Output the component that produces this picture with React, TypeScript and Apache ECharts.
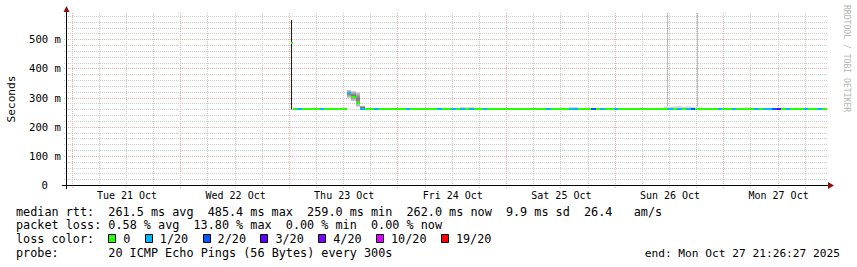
import React, { useEffect, useRef } from 'react';
import * as echarts from 'echarts';

// ---- axis data (hours counted from Tue 21 Oct 00:00) ----
const dayLabels = ['Tue 21 Oct', 'Wed 22 Oct', 'Thu 23 Oct', 'Fri 24 Oct', 'Sat 25 Oct', 'Sun 26 Oct', 'Mon 27 Oct'];
const dayLabelHours = [12, 36, 60, 84, 108, 132, 156];
const viewStartHour = -1.26;
const viewEndHour = 166.7;
const yMax = 590;

// ---- first (short) sample right after data starts ----
const firstSample = { start: 48.25, end: 48.6, median: 485.4, lo: 259.0, hi: 566.0, loss: 0 };

// ---- hourly samples starting at hour 48.6 ----
const hourlyStart = 48.6;
const median = [
  260.2, 259.8, 260.1, 260.0, 261.0, 261.2, 259.9, 260.1, 260.0, 259.8,
  260.1, 260.0, 314.5, 303.0, 281.0, 260.5, 259.4, 259.3, 259.5, 259.2,
  259.3, 259.4, 259.2, 259.3, 259.5, 260.2, 261.6, 261.8, 261.5, 261.7,
  261.4, 261.6, 261.0, 260.2, 259.6, 259.3, 259.2, 259.4, 259.3, 259.5,
  259.2, 259.3, 259.4, 259.2, 259.1, 259.3, 259.2, 259.4, 259.3, 259.1,
  259.2, 259.3, 259.2, 259.1, 259.3, 259.2, 259.4, 259.3, 259.2, 259.3,
  259.4, 259.5, 259.6, 259.3, 259.2, 259.3, 259.5, 259.3, 259.4, 259.2,
  259.3, 259.6, 261.8, 262.0, 262.1, 261.9, 262.2, 262.0, 261.8, 262.1,
  262.0, 261.9, 262.2, 262.4, 262.1, 262.3, 262.0, 262.2, 262.1, 261.9,
  261.8, 260.6, 260.5, 260.7, 260.6, 260.4, 260.6, 260.5, 260.7, 260.6,
  260.5, 260.8, 260.6, 260.5, 260.7, 260.6, 260.8, 260.9, 260.6, 260.5,
  260.7, 260.6, 260.5, 260.6, 260.7, 260.5, 260.6, 260.7,
];
const smokeLo = [
  259.2, 258.9, 259.1, 259.0, 259.8, 260.0, 258.9, 259.0, 259.1, 258.8,
  259.0, 259.1, 299.0, 288.0, 268.0, 258.6, 258.6, 258.5, 258.7, 258.4,
  258.5, 258.6, 258.4, 258.5, 258.7, 259.2, 260.4, 260.6, 260.3, 260.5,
  260.2, 260.4, 259.9, 259.2, 258.8, 258.5, 258.4, 258.5, 258.4, 258.6,
  258.4, 258.5, 258.6, 258.4, 258.3, 258.5, 258.4, 258.6, 258.5, 258.3,
  258.4, 258.5, 258.4, 258.3, 258.5, 258.4, 258.6, 258.5, 258.4, 258.5,
  258.6, 258.6, 258.7, 258.5, 258.4, 258.5, 258.6, 258.5, 258.6, 258.4,
  258.5, 258.7, 260.6, 260.8, 260.9, 260.7, 261.0, 260.8, 260.6, 260.9,
  260.8, 260.7, 261.0, 261.1, 260.9, 261.0, 260.8, 261.0, 260.9, 260.7,
  260.6, 259.6, 259.5, 259.7, 259.6, 259.4, 259.6, 259.5, 259.7, 259.6,
  259.5, 259.8, 259.6, 259.5, 259.7, 259.6, 259.8, 259.9, 259.6, 259.5,
  259.7, 259.6, 259.5, 259.6, 259.7, 259.5, 259.6, 259.7,
];
const smokeHi = [
  261.8, 261.5, 261.6, 261.6, 262.8, 263.0, 261.6, 261.8, 261.6, 261.4,
  261.8, 261.7, 326.0, 322.0, 318.0, 272.0, 261.0, 260.9, 261.3, 260.8,
  261.0, 261.1, 260.8, 261.0, 261.2, 262.0, 263.4, 263.6, 263.2, 263.5,
  263.1, 263.4, 265.5, 266.0, 261.4, 261.0, 260.9, 268.0, 267.0, 268.0,
  266.0, 261.0, 261.2, 260.9, 260.8, 261.0, 260.9, 261.1, 261.0, 260.8,
  260.9, 261.0, 260.9, 260.8, 261.0, 260.9, 261.2, 261.0, 260.9, 261.0,
  261.1, 268.0, 267.5, 261.0, 260.9, 261.0, 261.4, 261.0, 261.2, 260.9,
  261.0, 261.4, 263.6, 263.8, 264.0, 263.7, 264.1, 263.8, 263.6, 264.0,
  263.8, 263.7, 270.0, 269.0, 270.0, 271.0, 269.0, 270.0, 268.0, 263.7,
  263.6, 262.4, 262.3, 262.5, 262.6, 262.2, 262.4, 262.3, 262.5, 262.4,
  266.0, 262.6, 262.5, 262.3, 262.6, 262.5, 262.8, 263.0, 266.0, 262.3,
  262.5, 265.5, 262.3, 262.5, 262.6, 262.3, 262.5, 262.6,
];
const lossCount = [
  0, 1, 0, 0, 0, 0, 1, 0, 0, 0,
  0, 0, 1, 0, 0, 1, 0, 0, 1, 0,
  0, 0, 0, 0, 0, 1, 0, 0, 0, 0,
  0, 0, 1, 0, 0, 1, 0, 1, 0, 1,
  0, 0, 1, 0, 0, 0, 0, 0, 0, 0,
  0, 0, 0, 0, 0, 0, 1, 0, 0, 0,
  0, 1, 1, 0, 0, 0, 2, 0, 1, 0,
  0, 1, 0, 0, 0, 0, 0, 0, 0, 0,
  0, 0, 0, 1, 0, 1, 0, 1, 2, 0,
  0, 0, 0, 0, 1, 0, 0, 1, 0, 0,
  0, 0, 1, 0, 1, 1, 2, 3, 0, 1,
  0, 0, 0, 1, 0, 0, 1, 0,
];
// single far-out pings (thin smoke lines)
const outlierHours = [131.3, 138.0];
const outlierLow = [270, 268];
const outlierHigh = [640, 640];

// ---- loss legend ----
const lossLevels = [0, 1, 2, 3, 4, 10, 19];
const lossLabels = ['0', '1/20', '2/20', '3/20', '4/20', '10/20', '19/20'];
const lossColors = ['#26ff00', '#00b8ff', '#0059ff', '#5e00ff', '#7e00ff', '#dd00ff', '#ff0000'];

// ---- statistics ----
const rttStats = { avg: '261.5', max: '485.4', min: '259.0', now: '262.0', sd: '9.9', amps: '26.4' };
const lossStats = { avg: '0.58', max: '13.80', min: '0.00', now: '0.00' };
const probeText = '20 ICMP Echo Pings (56 Bytes) every 300s';
const endText = 'end: Mon Oct 27 21:26:27 2025';

const MONO = "'DejaVu Sans Mono', monospace";
const MAJOR = '#eab0b0';
const MINOR = '#cdcdcd';
const AXIS_ARROW = '#8b1010';

function lossColor(c: number) {
  let col = lossColors[0];
  lossLevels.forEach((l, k) => {
    if (c >= l) col = lossColors[k];
  });
  return col;
}

function segments(line: string) {
  const out: { text: string; col: number }[] = [];
  const re = /\S+(?: \S+)*/g;
  let m: RegExpExecArray | null;
  while ((m = re.exec(line))) out.push({ text: m[0], col: m.index });
  return out;
}

function buildOption() {
  const rows: number[][] = [
    [firstSample.start, firstSample.end, firstSample.median, firstSample.lo, firstSample.hi, firstSample.loss],
  ];
  median.forEach((m, i) => {
    rows.push([hourlyStart + i, hourlyStart + i + 1, m, smokeLo[i], smokeHi[i], lossCount[i]]);
  });
  const outRows = outlierHours.map((h, i) => [h, outlierLow[i], outlierHigh[i]]);

  const vGrid: number[][] = [];
  for (let h = 0; h <= viewEndHour; h += 6) if (h >= viewStartHour) vGrid.push([h, 0, h % 24 === 0 ? 1 : 0]);
  const hGrid: number[][] = [];
  for (let v = 20; v < yMax; v += 20) hGrid.push([0, v, v % 100 === 0 ? 1 : 0]);

  // legend text
  const charW = 7.1;
  const lx = 16;
  const fs = 11.8;
  const rowsY = [211.5, 225, 239, 253];
  const line1 = `median rtt:  ${rttStats.avg} ms avg  ${rttStats.max} ms max  ${rttStats.min} ms min  ${rttStats.now} ms now  ${rttStats.sd} ms sd  ${rttStats.amps}   am/s`;
  const line2 = `packet loss: ${lossStats.avg} % avg  ${lossStats.max} % max  ${lossStats.min} % min  ${lossStats.now} % now`;
  const line4 = `probe:       ${probeText}`;
  const graphics: any[] = [];
  const addLine = (line: string, y: number) => {
    segments(line).forEach((s) => {
      graphics.push({
        type: 'text', x: lx + s.col * charW, y, silent: true,
        style: { text: s.text, fontFamily: MONO, fontSize: fs, fill: '#000', align: 'left', verticalAlign: 'middle' },
      });
    });
  };
  addLine(line1, rowsY[0]);
  addLine(line2, rowsY[1]);
  addLine('loss color:', rowsY[2]);
  addLine(line4, rowsY[3]);
  graphics.push({
    type: 'text', x: 840, y: rowsY[3], silent: true,
    style: { text: endText, fontFamily: MONO, fontSize: 11.2, fill: '#000', align: 'right', verticalAlign: 'middle' },
  });
  let sx = lx + 13 * charW;
  lossLabels.forEach((lab, k) => {
    graphics.push({
      type: 'rect', silent: true,
      shape: { x: Math.round(sx) + 0.5, y: 234.5, width: 7, height: 8 },
      style: { fill: lossColors[k], stroke: '#000', lineWidth: 1 },
    });
    const tx = sx + 15;
    graphics.push({
      type: 'text', x: tx, y: rowsY[2], silent: true,
      style: { text: lab, fontFamily: MONO, fontSize: fs, fill: '#000', align: 'left', verticalAlign: 'middle' },
    });
    sx = tx + lab.length * charW + 14.4;
  });

  // axes lines & arrows
  graphics.push(
    { type: 'line', silent: true, z: 10, shape: { x1: 62, y1: 185.5, x2: 829, y2: 185.5 }, style: { stroke: '#000', lineWidth: 1 } },
    { type: 'line', silent: true, z: 10, shape: { x1: 66.5, y1: 189, x2: 66.5, y2: 10 }, style: { stroke: '#000', lineWidth: 1 } },
    { type: 'polygon', silent: true, z: 11, shape: { points: [[828, 182], [834, 185.5], [828, 189]] }, style: { fill: AXIS_ARROW } },
    { type: 'polygon', silent: true, z: 11, shape: { points: [[63.5, 12], [66.5, 6], [69.5, 12]] }, style: { fill: AXIS_ARROW } },
  );
  // y axis title
  graphics.push({
    type: 'text', x: 11, y: 99, rotation: Math.PI / 2, silent: true,
    style: { text: 'Seconds', fontFamily: MONO, fontSize: 11.2, fill: '#000', align: 'center', verticalAlign: 'middle' },
  });
  // watermark
  graphics.push({
    type: 'text', x: 847, y: 5, rotation: -Math.PI / 2, silent: true,
    style: { text: 'RRDTOOL / TOBI OETIKER', fontFamily: MONO, fontSize: 8.1, fill: '#b4b4b4', align: 'left', verticalAlign: 'middle' },
  });

  return {
    animation: false,
    backgroundColor: '#fff',
    grid: { left: 67, right: 30, top: 13, bottom: 82 },
    xAxis: {
      type: 'value', min: viewStartHour, max: viewEndHour,
      axisLine: { show: false }, axisTick: { show: false }, splitLine: { show: false },
      axisLabel: {
        customValues: dayLabelHours,
        formatter: (v: number) => dayLabels[dayLabelHours.indexOf(v)] ?? '',
        fontFamily: MONO, fontSize: 10, color: '#000', margin: 5,
      },
    },
    yAxis: {
      type: 'value', min: 0, max: yMax, interval: 100,
      axisLine: { show: false }, axisTick: { show: false }, splitLine: { show: false },
      axisLabel: {
        showMaxLabel: false,
        formatter: (v: number) => (v === 0 ? '{z|0}' : `${v} m`),
        rich: { z: { fontFamily: MONO, fontSize: 10.6, color: '#000', padding: [0, 13, 0, 0] } },
        fontFamily: MONO, fontSize: 10.6, color: '#000', margin: 6,
      },
    },
    graphic: graphics,
    series: [
      {
        type: 'custom', silent: true, clip: false, z: 1,
        data: vGrid, encode: { x: 0, y: 1 },
        renderItem: (params: any, api: any) => {
          const cs = params.coordSys;
          const x = Math.round(api.coord([api.value(0), 0])[0]) - 0.5;
          const major = api.value(2) === 1;
          return {
            type: 'line',
            shape: { x1: x, y1: cs.y, x2: x, y2: cs.y + cs.height + 3 },
            style: { stroke: major ? MAJOR : MINOR, lineWidth: 1, lineDash: [1, 1] },
          };
        },
      },
      {
        type: 'custom', silent: true, clip: false, z: 1,
        data: hGrid, encode: { x: 0, y: 1 },
        renderItem: (params: any, api: any) => {
          const cs = params.coordSys;
          const y = Math.round(api.coord([0, api.value(1)])[1]) + 0.5;
          const major = api.value(2) === 1;
          return {
            type: 'line',
            shape: { x1: cs.x - 3, y1: y, x2: cs.x + cs.width, y2: y },
            style: { stroke: major ? MAJOR : MINOR, lineWidth: 1, lineDash: [1, 1] },
          };
        },
      },
      {
        // outlier pings
        type: 'custom', silent: true, clip: true, z: 2,
        data: outRows, encode: { x: 0, y: [1, 2] },
        renderItem: (params: any, api: any) => {
          const x = Math.round(api.coord([api.value(0), 0])[0]) + 0.5;
          const y1 = api.coord([0, api.value(1)])[1];
          const y2 = api.coord([0, api.value(2)])[1];
          return { type: 'line', shape: { x1: x, y1, x2: x, y2 }, style: { stroke: '#bcbcbc', lineWidth: 1 } };
        },
      },
      {
        // smoke
        type: 'custom', silent: true, clip: true, z: 3,
        data: rows, encode: { x: [0, 1], y: [3, 4] },
        renderItem: (params: any, api: any) => {
          const x1 = Math.round(api.coord([api.value(0), 0])[0]);
          const lo = api.value(3);
          const hi = api.value(4);
          const spread = hi - lo;
          const x2 = spread > 150 ? x1 + 1 : Math.max(x1 + 1, Math.round(api.coord([api.value(1), 0])[0]));
          const yLo = api.coord([0, lo])[1];
          const yHi = api.coord([0, hi])[1];
          let fill: any = '#d8d8d8';
          if (spread > 150) fill = '#1e1e1e';
          else if (spread > 12)
            fill = new echarts.graphic.LinearGradient(0, 0, 0, 1, [
              { offset: 0, color: '#d0d0d0' },
              { offset: 0.45, color: '#777777' },
              { offset: 1, color: '#cfcfcf' },
            ]);
          return { type: 'rect', shape: { x: x1, y: yHi, width: x2 - x1, height: yLo - yHi }, style: { fill } };
        },
      },
      {
        // median rtt coloured by loss
        type: 'custom', silent: true, clip: true, z: 4,
        data: rows, encode: { x: [0, 1], y: 2 },
        renderItem: (params: any, api: any) => {
          const x1 = Math.round(api.coord([api.value(0), 0])[0]);
          const x2 = Math.max(x1 + 2, Math.round(api.coord([api.value(1), 0])[0]));
          const y = Math.round(api.coord([0, api.value(2)])[1]);
          return {
            type: 'rect',
            shape: { x: x1, y: y - 1, width: x2 - x1, height: 2 },
            style: { fill: lossColor(api.value(5)) },
          };
        },
      },
    ],
  };
}

export default function App() {
  const ref = useRef<HTMLDivElement>(null);
  useEffect(() => {
    document.body.style.margin = '0';
    const chart = echarts.init(ref.current as HTMLDivElement, null, { renderer: 'svg' });
    chart.setOption(buildOption() as any);
    return () => chart.dispose();
  }, []);
  return <div ref={ref} style={{ width: 857, height: 267, background: '#fff' }} />;
}
